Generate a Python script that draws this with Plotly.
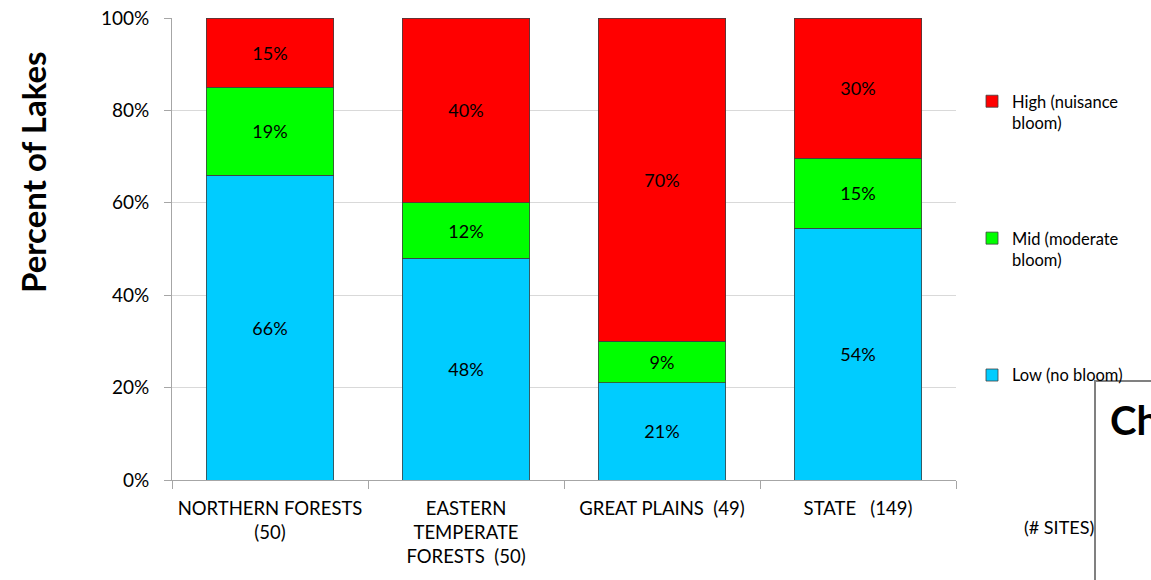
import plotly.graph_objects as go

# Lake bloom categories by ecoregion (percent of lakes)
regions = [
    "NORTHERN FORESTS<br>(50)",
    "EASTERN<br>TEMPERATE<br>FORESTS\u00a0\u00a0(50)",
    "GREAT PLAINS\u00a0\u00a0(49)",
    "STATE\u00a0\u00a0\u00a0(149)",
]
low = [66, 48, 21, 54]
mid = [19, 12, 9, 15]
high = [15, 40, 70, 30]

series_names = ["Low (no bloom)", "Mid (moderate<br>bloom)", "High (nuisance<br>bloom)"]
series_vals = [low, mid, high]
series_colors = ["#00CCFF", "#00FF00", "#FF0000"]
legend_ranks = [3, 2, 1]

FONT = "Lato"
W, H = 1151, 580
L, R, T, B = 172, 195, 18, 100
PW, PH = W - L - R, H - T - B


def px_x(p):
    return (p - L) / PW


def px_y(p):
    return (H - B - p) / PH


fig = go.Figure()
for i, (name, vals, col) in enumerate(zip(series_names, series_vals, series_colors)):
    fig.add_trace(go.Bar(
        x=regions, y=vals, name=name,
        marker=dict(color=col, line=dict(color="#404040", width=0.8)),
        text=[f"{v}%" for v in vals],
        textposition="inside", insidetextanchor="middle", textangle=0,
        textfont=dict(family=FONT, size=18, color="#000000"),
        legendgroup=f"g{i}", legendrank=legend_ranks[i],
        hoverinfo="skip",
    ))

fig.update_layout(
    width=W, height=H,
    margin=dict(l=L, r=R, t=T, b=B, autoexpand=False),
    barmode="stack", barnorm="percent", bargap=0.35,
    plot_bgcolor="white", paper_bgcolor="white",
    font=dict(family=FONT, size=17, color="#000000"),
    showlegend=True,
    legend=dict(
        x=px_x(972), y=px_y(84), xanchor="left", yanchor="top",
        traceorder="grouped", tracegroupgap=91, valign="top",
        font=dict(family=FONT, size=16.5, color="#000000"),
        itemwidth=30, bgcolor="rgba(0,0,0,0)",
    ),
)

fig.update_yaxes(
    range=[0, 100], tickvals=[0, 20, 40, 60, 80, 100],
    ticktext=["0%", "20%", "40%", "60%", "80%", "100%"],
    showgrid=True, gridcolor="#D9D9D9", gridwidth=1,
    showline=True, linecolor="#A6A6A6", linewidth=1,
    ticks="outside", ticklen=7, tickcolor="#A6A6A6",
    ticklabelstandoff=11,
    tickfont=dict(family=FONT, size=19, color="#000000"),
    zeroline=False, fixedrange=True,
)
fig.update_xaxes(
    showline=True, linecolor="#A6A6A6", linewidth=1,
    ticks="outside", ticklen=8, tickcolor="#A6A6A6", tickson="boundaries",
    tickangle=0, ticklabelstandoff=12,
    tickfont=dict(family=FONT, size=18.5, color="#000000"),
    showgrid=False, fixedrange=True,
)

# Axis title
fig.add_annotation(
    xref="paper", yref="paper", x=px_x(33), y=px_y(172),
    xanchor="center", yanchor="middle",
    text="<b>Percent of Lakes</b>", textangle=-90, showarrow=False,
    font=dict(family=FONT, size=33, color="#000000"),
)

fig.add_annotation(
    xref="paper", yref="paper", x=px_x(1096), y=px_y(527),
    xanchor="right", yanchor="middle",
    text="(# SITES)", showarrow=False,
    font=dict(family=FONT, size=18, color="#000000"),
)

# Overlapping panel in the lower right corner
fig.add_shape(
    type="rect", xref="paper", yref="paper",
    x0=px_x(1095), x1=px_x(1170), y0=px_y(381), y1=px_y(600),
    line=dict(color="#808080", width=2), fillcolor="white", layer="above",
)
fig.add_annotation(
    xref="paper", yref="paper", x=px_x(1108), y=px_y(420),
    xanchor="left", yanchor="middle",
    text="<b>Ch</b>", showarrow=False,
    font=dict(family=FONT, size=40, color="#000000"),
)

fig.write_html("out.html")
